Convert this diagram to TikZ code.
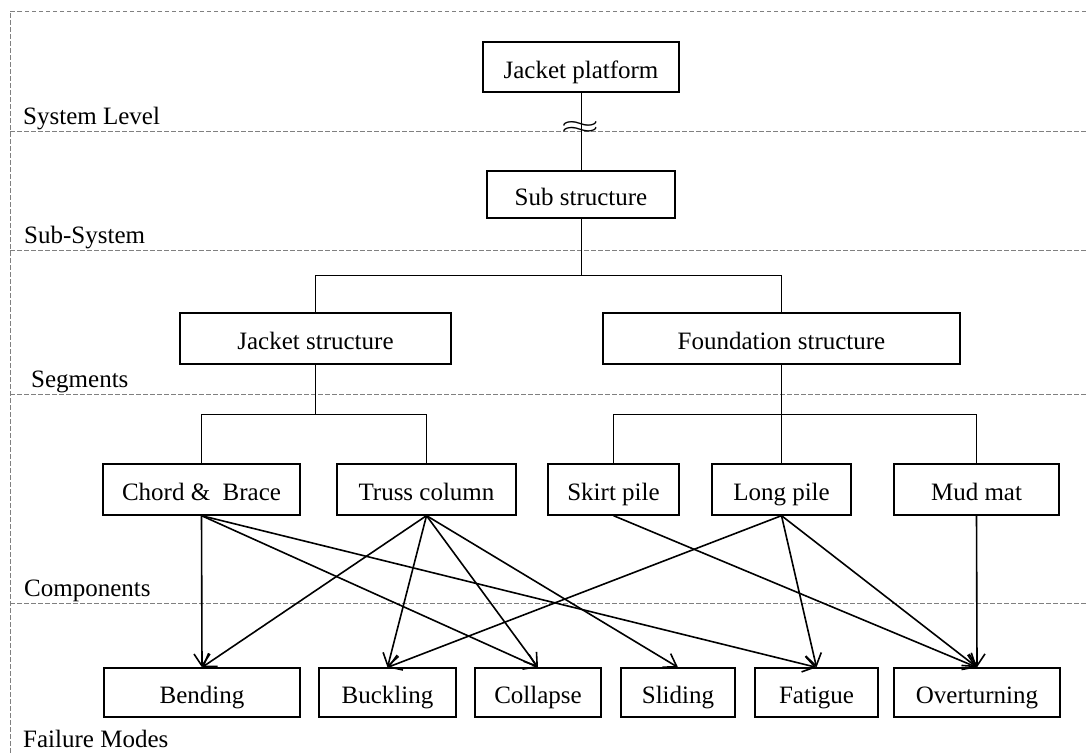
\documentclass[tikz,border=0pt]{standalone}
\usepackage{fontspec}
\setmainfont{Liberation Serif}
\usepackage{tikz}
\usetikzlibrary{arrows.meta}

\begin{document}
\begin{tikzpicture}[x=1pt,y=-1pt,
  box/.style={draw=black,line width=1.3pt,inner sep=0pt,minimum width=#1,minimum height=51pt,
    text height=22pt,text depth=0pt,font=\fontsize{25}{29}\selectfont},
  lvl/.style={anchor=base west,inner sep=0pt,font=\fontsize{25}{29}\selectfont},
  level/.style={color=gray,line width=1pt,dash pattern=on 4.5pt off 2.5pt},
  tree/.style={color=black,line width=1pt},
  link/.style={color=black,line width=1.6pt,-{Straight Barb[length=12pt,width=16pt,line width=1.6pt]}}]
\useasboundingbox (0,0) rectangle (1086,753);
% Drawing level lines
\draw[level] (1086,11) -- (10,11) -- (10,753);
\draw[level] (10,131) -- (1086,131);
\draw[level] (10,250) -- (1086,250);
\draw[level] (10,394) -- (1086,394);
\draw[level] (10,603) -- (1086,603);
% Level labels
\node[lvl] (lsys) at (23,124) {System Level};
\node[lvl] (lsub) at (24,243) {Sub-System};
\node[lvl] (lseg) at (31,387) {Segments};
\node[lvl] (lcom) at (24,596) {Components};
\node[lvl] (lfail) at (23,747) {Failure Modes};
% Done with level lines; drawing boxes
% Row 1: system
\node[box=196pt,minimum height=50pt] (jplat) at (581,67) {Jacket platform};
% Row 2: sub-system
\node[box=188pt,minimum height=47pt] (sub) at (581,194.5) {Sub structure};
% Row 3: segments
\node[box=271pt] (jstr) at (315.5,338.5) {Jacket structure};
\node[box=357pt] (fstr) at (781.5,338.5) {Foundation structure};
% Row 4: components
\node[box=197pt] (chord) at (201.5,489.5) {Chord \&\ \ Brace};
\node[box=179pt] (truss) at (426.5,489.5) {Truss column};
\node[box=131pt] (skirt) at (613.5,489.5) {Skirt pile};
\node[box=139pt] (long) at (781.5,489.5) {Long pile};
\node[box=165pt] (mud) at (976.5,489.5) {Mud mat};
% Row 5: failure modes
\node[box=196pt,minimum height=49pt] (bend) at (202,692.5) {Bending};
\node[box=137pt,minimum height=49pt] (buck) at (387.5,692.5) {Buckling};
\node[box=126pt,minimum height=49pt] (coll) at (538,692.5) {Collapse};
\node[box=114pt,minimum height=49pt] (slid) at (678,692.5) {Sliding};
\node[box=123pt,minimum height=49pt] (fat) at (816.5,692.5) {Fatigue};
\node[box=166pt,minimum height=49pt] (over) at (977,692.5) {Overturning};
% Done with boxes; drawing tree lines
\draw[tree] (jplat) -- (sub);
\node[xscale=2,inner sep=0pt,font=\fontsize{26}{30}\selectfont] (brk) at (580,127) {$\approx$};
\draw[tree] (sub.south) -- ++(0,57) -| (jstr.north);
\draw[tree] (sub.south) -- ++(0,57) -| (fstr.north);
\draw[tree] (jstr.south) -- ++(0,50) -| (chord.north);
\draw[tree] (jstr.south) -- ++(0,50) -| (truss.north);
\draw[tree] (fstr.south) -- ++(0,50) -| (skirt.north);
\draw[tree] (fstr.south) -- (long.north);
\draw[tree] (fstr.south) -- ++(0,50) -| (mud.north);
% Done with tree lines; drawing failure arrows
% Chord & Brace
\draw[link] (chord.south) -- (bend.north);
\draw[link] (chord.south) -- (coll.north);
\draw[link] (chord.south) -- (fat.north);
% Truss column
\draw[link] (truss.south) -- (bend.north);
\draw[link] (truss.south) -- (buck.north);
\draw[link] (truss.south) -- (coll.north);
\draw[link] (truss.south) -- (slid.north);
% Skirt pile
\draw[link] (skirt.south) -- (over.north);
% Long pile
\draw[link] (long.south) -- (buck.north);
\draw[link] (long.south) -- (fat.north);
\draw[link] (long.south) -- (over.north);
% Mud mat
\draw[link] (mud.south) -- (over.north);
% Done with arrows
\end{tikzpicture}
\end{document}
